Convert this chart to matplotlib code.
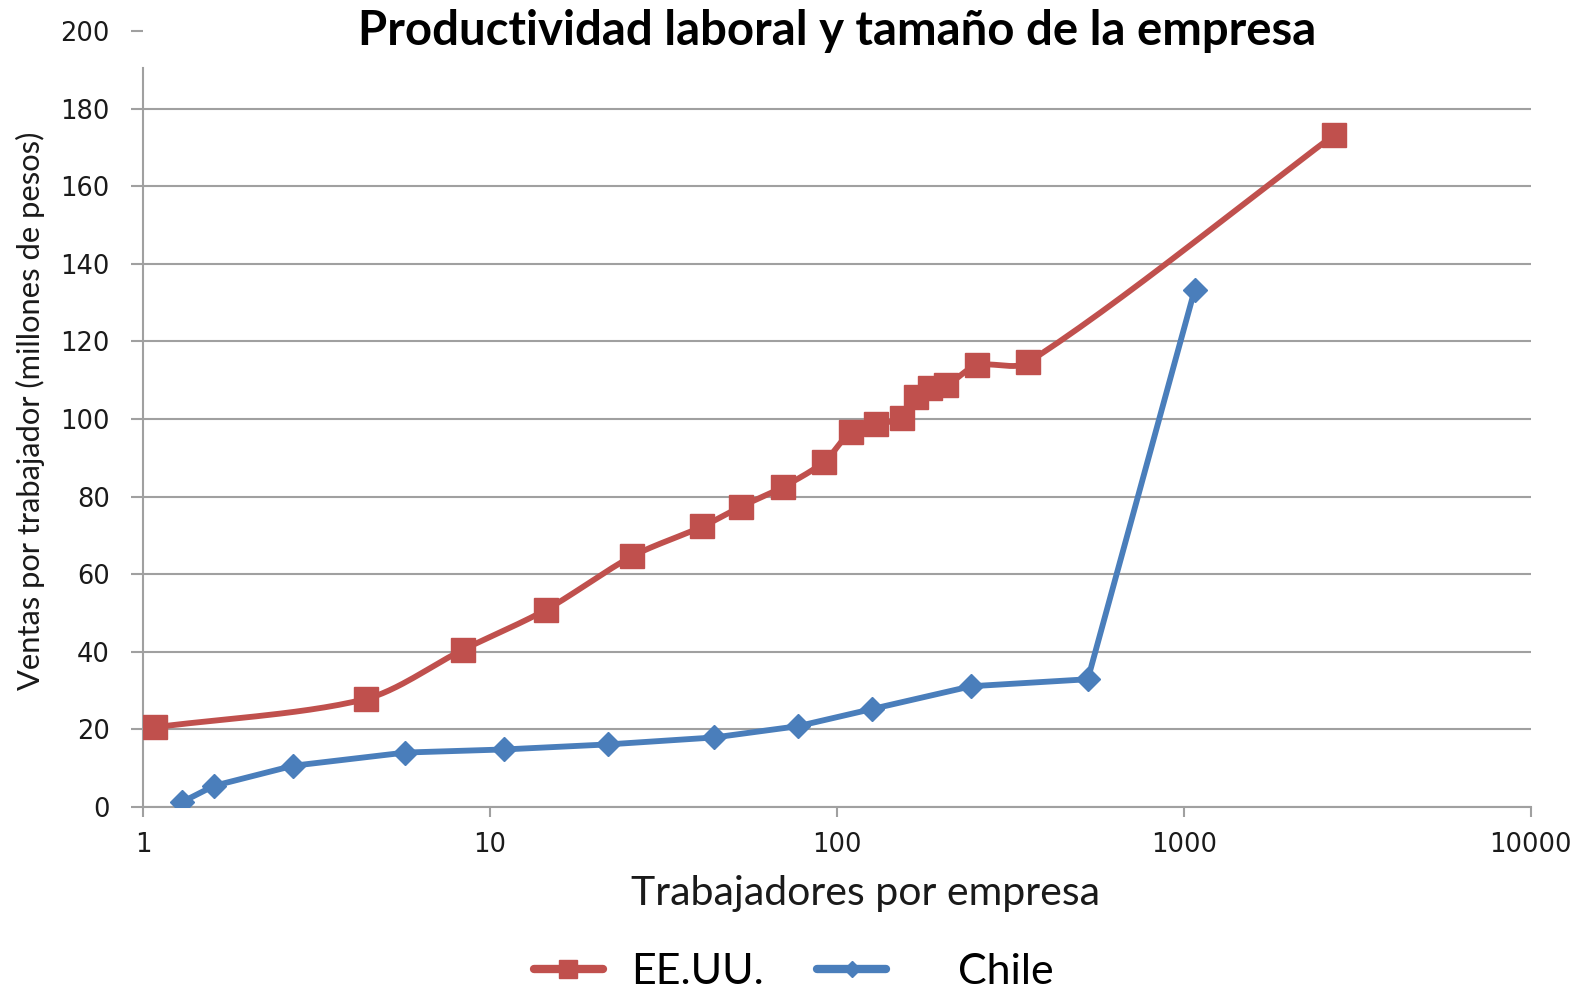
import numpy as np
import matplotlib
matplotlib.use("Agg")
import matplotlib.pyplot as plt
from matplotlib.lines import Line2D

# Data
usa_workers = [1.08, 4.38, 8.36, 14.5, 25.7, 41.0, 52.9, 70.0, 92.0, 110, 130, 154, 169, 186, 207, 253, 356, 2718]
usa_sales = [20.5, 27.8, 40.5, 50.8, 64.6, 72.3, 77.4, 82.5, 89.0, 96.7, 98.7, 100.3, 105.7, 108.0, 108.7, 113.8, 114.6, 173.3]
chile_workers = [1.30, 1.60, 2.71, 5.71, 11.0, 21.9, 44.4, 77.3, 126, 244, 529, 1075]
chile_sales = [1.3, 5.4, 10.6, 14.0, 14.8, 16.1, 17.9, 20.8, 25.2, 31.1, 32.9, 133.3]
y_ticks = [0, 20, 40, 60, 80, 100, 120, 140, 160, 180, 200]
x_ticks = [1, 10, 100, 1000, 10000]
x_ticklabels = ["1", "10", "100", "1000", "10000"]

title = "Productividad laboral y tamaño de la empresa"
xlabel = "Trabajadores por empresa"
ylabel = "Ventas por trabajador (millones de pesos)"
labels = ["EE.UU.", "Chile"]

RED = "#C0504D"
BLUE = "#4A7EBB"
GRID = "#A0A0A0"

FIG_W, FIG_H = 15.78, 9.90
AX_RECT = [0.0906, 0.185, 0.8794, 0.7835]


def smooth_curve(px, py, n=30):
    """Smoothed Bezier curve through points (pixel-like space), tangents
    proportioned by neighbouring segment lengths to avoid overshoot."""
    px = np.asarray(px, float)
    py = np.asarray(py, float)
    P = np.column_stack([px, py])
    N = len(P)
    tang = np.zeros_like(P)
    for i in range(N):
        a = P[max(i - 1, 0)]
        b = P[min(i + 1, N - 1)]
        tang[i] = b - a
    t = np.linspace(0, 1, n)[:, None]
    out = []
    for i in range(N - 1):
        p1, p2 = P[i], P[i + 1]
        seg = np.linalg.norm(p2 - p1)
        d1 = tang[i]
        d2 = tang[i + 1]
        n1 = np.linalg.norm(d1)
        n2 = np.linalg.norm(d2)
        c1 = p1 + (d1 / n1 * seg / 3 if n1 > 0 else 0) * 0.9
        c2 = p2 - (d2 / n2 * seg / 3 if n2 > 0 else 0) * 0.9
        b = (1 - t) ** 3 * p1 + 3 * (1 - t) ** 2 * t * c1 + 3 * (1 - t) * t ** 2 * c2 + t ** 3 * p2
        out.append(b)
    out = np.vstack(out)
    return out[:, 0], out[:, 1]


fig = plt.figure(figsize=(FIG_W, FIG_H), dpi=100)
ax = fig.add_axes(AX_RECT)

ax.set_xscale("log")
ax.set_xlim(1, 10000)
ax.set_ylim(0, 200)

# pixel scale factors for smoothing
sx = AX_RECT[2] * FIG_W * 100 / 4.0     # px per decade
sy = AX_RECT[3] * FIG_H * 100 / 200.0   # px per unit
cx, cy = smooth_curve(np.log10(usa_workers) * sx, np.asarray(usa_sales) * sy)
ax.plot(10 ** (cx / sx), cy / sy, color=RED, lw=4.2, solid_capstyle="round",
        solid_joinstyle="round", zorder=3)
ax.plot(usa_workers, usa_sales, ls="none", marker="s", ms=17, color=RED, zorder=4)

ax.plot(chile_workers, chile_sales, color=BLUE, lw=4.2, marker="D", ms=12.5,
        solid_joinstyle="round", zorder=3)

# Axes styling
ax.set_yticks(y_ticks)
ax.set_yticklabels([str(v) for v in y_ticks])
ax.set_xticks(x_ticks)
ax.set_xticklabels(x_ticklabels)
ax.xaxis.set_minor_locator(matplotlib.ticker.NullLocator())

ax.grid(axis="y", color=GRID, lw=1.5)
ax.set_axisbelow(True)
ax.get_ygridlines()[-1].set_visible(False)

for s in ["top", "right"]:
    ax.spines[s].set_visible(False)
ax.spines["left"].set_color(GRID)
ax.spines["bottom"].set_color(GRID)
ax.spines["left"].set_linewidth(1.5)
ax.spines["bottom"].set_linewidth(1.5)
ax.spines["left"].set_bounds(0, 190.6)

ax.tick_params(axis="y", direction="out", length=9, width=1.5, color=GRID,
               labelsize=18.5, pad=15, labelcolor="#1a1a1a")
ax.tick_params(axis="x", direction="out", length=7, width=1.5, color=GRID,
               labelsize=18.5, pad=11, labelcolor="#1a1a1a")

fig.text(0.5303, 0.969, title, ha="center", va="center", fontsize=34,
         fontweight="bold", family="Lato")

fig.text(0.5485, 1 - 894 / 990, xlabel, ha="center", va="center", fontsize=29.5,
         family="Lato", color="#1a1a1a")
fig.text(0.0195, 1 - 411 / 990, ylabel, ha="center", va="center", rotation=90,
         fontsize=22.2, family="Lato", color="#1a1a1a")

# Legend
handles = [
    Line2D([], [], color=RED, lw=6, marker="s", ms=13, solid_capstyle="round"),
    Line2D([], [], color=BLUE, lw=6, marker="D", ms=8, solid_capstyle="round"),
]
leg = fig.legend(handles, [labels[0], "    " + labels[1]], loc="center",
                 bbox_to_anchor=(0.503, 1 - 972 / 990), ncol=2, frameon=False,
                 prop={"family": "Lato", "size": 31}, handlelength=1.6,
                 handletextpad=0.65, columnspacing=1.25)

fig.savefig("out.png", dpi=100)
